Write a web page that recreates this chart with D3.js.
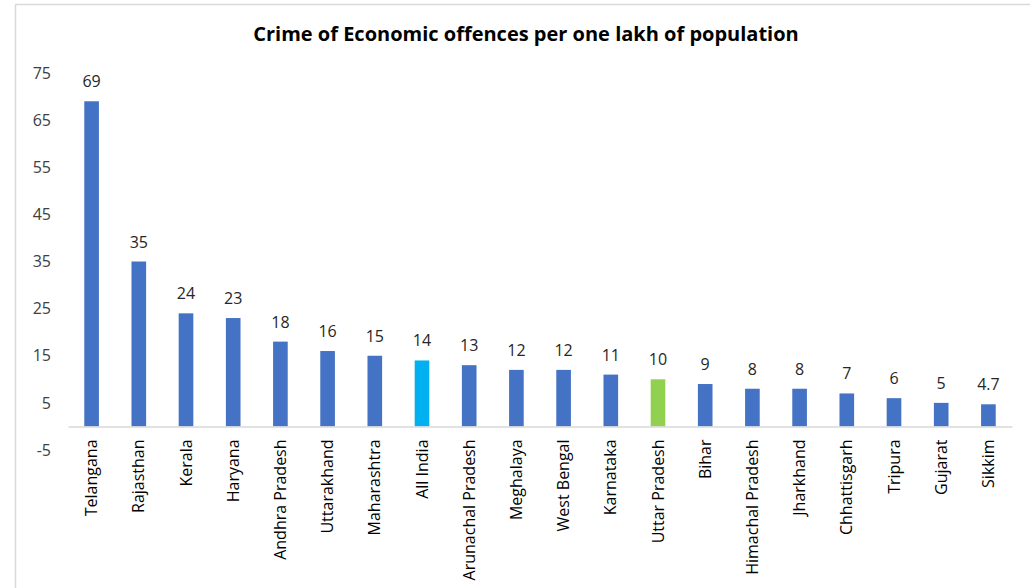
<!DOCTYPE html>
<html>
<head>
<meta charset="utf-8">
<script src="https://cdn.jsdelivr.net/npm/d3@7"></script>
<style>
  html, body { margin: 0; padding: 0; background: #fff; }
  svg { display: block; }
  text { font-family: "Open Sans", "Liberation Sans", sans-serif; }
</style>
</head>
<body>
<svg id="chart" width="1030" height="588"></svg>
<script>
// Economic offences per one lakh of population, by state
const states = ["Telangana", "Rajasthan", "Kerala", "Haryana", "Andhra Pradesh", "Uttarakhand",
  "Maharashtra", "All India", "Arunachal Pradesh", "Meghalaya", "West Bengal", "Karnataka",
  "Uttar Pradesh", "Bihar", "Himachal Pradesh", "Jharkhand", "Chhattisgarh", "Tripura", "Gujarat", "Sikkim"];
const rates = [69, 35, 24, 23, 18, 16, 15, 14, 13, 12, 12, 11, 10, 9, 8, 8, 7, 6, 5, 4.7];
const yTicks = [-5, 5, 15, 25, 35, 45, 55, 65, 75];
const titleText = "Crime of Economic offences per one lakh of population";

const svg = d3.select("#chart");
const fontStack = "\"Open Sans\", \"Liberation Sans\", sans-serif";

// outer frame
svg.append("rect")
  .attr("x", 15.5).attr("y", 4.5)
  .attr("width", 1030).attr("height", 600)
  .attr("fill", "none").attr("stroke", "#d9d9d9").attr("stroke-width", 1.5);

const x = d3.scaleBand().domain(states).range([68, 1012]).paddingInner(0.69).paddingOuter(0.345);
const y = d3.scaleLinear().domain([-5, 75]).range([450, 73]);

const barColor = d => d === "All India" ? "#00b0f0" : d === "Uttar Pradesh" ? "#92d050" : "#4472c4";

// title
svg.append("text")
  .attr("x", 526).attr("y", 41)
  .attr("text-anchor", "middle")
  .attr("font-size", 20).attr("font-weight", "bold").attr("fill", "#000")
  .text(titleText);

// value axis (labels only)
const yAxis = svg.append("g")
  .attr("transform", "translate(51,0)")
  .call(d3.axisLeft(y).tickValues(yTicks).tickSize(0).tickPadding(0).tickFormat(d => String(d)));
yAxis.select(".domain").remove();
yAxis.selectAll("text").attr("font-size", 16).attr("fill", "#404040")
  .style("font-family", fontStack);

// bars
svg.append("g").selectAll("rect")
  .data(states)
  .join("rect")
  .attr("x", d => x(d))
  .attr("width", x.bandwidth())
  .attr("y", (d, i) => y(rates[i]))
  .attr("height", (d, i) => y(0) - y(rates[i]))
  .attr("fill", d => barColor(d));

// value labels
svg.append("g").selectAll("text")
  .data(states)
  .join("text")
  .attr("x", d => x(d) + x.bandwidth() / 2)
  .attr("y", (d, i) => y(rates[i]) - 14)
  .attr("text-anchor", "middle")
  .attr("font-size", 16).attr("fill", "#262626")
  .text((d, i) => rates[i]);

// category axis
const xAxis = svg.append("g")
  .attr("transform", `translate(0,${y(0)})`)
  .call(d3.axisBottom(x).tickSize(0).tickSizeOuter(0));
xAxis.select(".domain").attr("stroke", "#d9d9d9").attr("stroke-width", 1.5);
xAxis.selectAll("text")
  .attr("font-size", 16).attr("fill", "#000")
  .style("font-family", fontStack)
  .attr("text-anchor", "end")
  .attr("transform", "rotate(-90)")
  .attr("x", -13).attr("y", 0).attr("dy", "0.35em");
</script>
</body>
</html>
